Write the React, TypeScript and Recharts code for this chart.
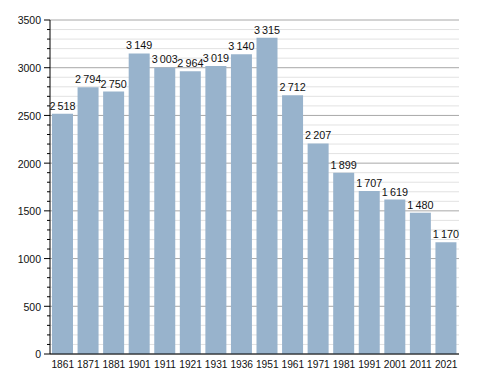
import { BarChart, Bar, XAxis, YAxis, CartesianGrid, LabelList } from "recharts";

const years = ["1861", "1871", "1881", "1901", "1911", "1921", "1931", "1936", "1951", "1961", "1971", "1981", "1991", "2001", "2011", "2021"];
const population = [2518, 2794, 2750, 3149, 3003, 2964, 3019, 3140, 3315, 2712, 2207, 1899, 1707, 1619, 1480, 1170];
const yTicks = Array.from({ length: 36 }, (_, i) => i * 100);
const majorValues = yTicks.filter((v) => v % 500 === 0);
const minorValues = yTicks.filter((v) => v % 500 !== 0);

const data = years.map((year, i) => ({ year, pop: population[i] }));

const font = '"Liberation Sans", Arial, sans-serif';

// thin space as thousands separator, like "2 518"
const fmt = (v: number) => {
  const s = String(v);
  return s.length > 3 ? s.slice(0, -3) + "\u2009" + s.slice(-3) : s;
};

function YTick(props: any) {
  const { x, y, payload } = props;
  const major = payload.value % 500 === 0;
  return (
    <g>
      <line x1={x - (major ? 6 : 3)} x2={x} y1={y} y2={y} stroke="#000" strokeWidth={1} />
      {major && (
        <text x={x - 9} y={y} dy="0.42em" textAnchor="end" fontSize={10.5} fontFamily={font} fill="#111">
          {payload.value}
        </text>
      )}
    </g>
  );
}

export default function App() {
  return (
    <div style={{ position: "absolute", left: 0, top: 0, background: "#fff" }}>
      <BarChart width={488} height={373} data={data} margin={{ top: 20, right: 29, bottom: 3, left: 0 }}>
        <CartesianGrid vertical={false} horizontalValues={minorValues} stroke="#e2e2e2" />
        <CartesianGrid vertical={false} horizontalValues={majorValues} stroke="#a8a8a8" />
        <XAxis
          dataKey="year"
          interval={0}
          height={16}
          tickLine={false}
          axisLine={{ stroke: "#000" }}
          tick={{ fontSize: 10.2, fontFamily: font, fill: "#111" }}
          tickMargin={1}
        />
        <YAxis
          width={50}
          domain={[0, 3500]}
          ticks={yTicks}
          interval={0}
          tickLine={false}
          tickSize={0}
          tickMargin={0}
          axisLine={{ stroke: "#000" }}
          tick={<YTick />}
        />
        <Bar dataKey="pop" fill="#98b3cc" barSize={21} isAnimationActive={false}>
          <LabelList
            dataKey="pop"
            position="top"
            offset={4}
            formatter={(v: any) => fmt(Number(v))}
            style={{ fontSize: 10.8, fontFamily: font, fill: "#111" }}
          />
        </Bar>
      </BarChart>
    </div>
  );
}
